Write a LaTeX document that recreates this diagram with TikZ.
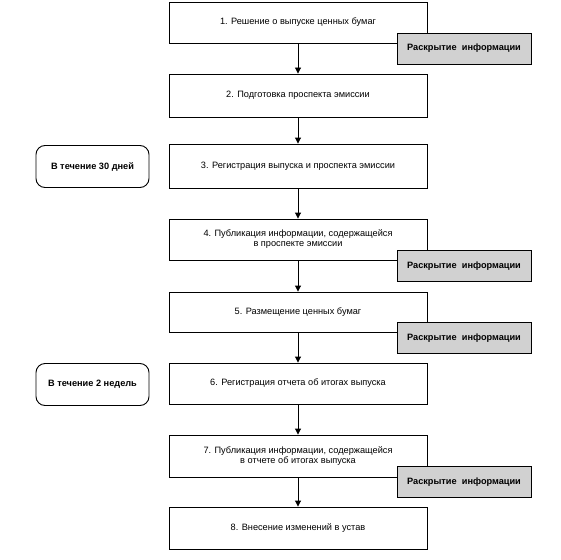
\documentclass[tikz,border=0pt]{standalone}
\usepackage{fontspec}
\setmainfont{Liberation Sans}
\usetikzlibrary{arrows.meta}
\begin{document}
\begin{tikzpicture}[x=1pt,y=-1pt,
  mainbox/.style={draw,line width=0.9pt,minimum width=258pt,inner sep=0pt,align=center,font=\fontsize{9.2}{10}\selectfont},
  infobox/.style={draw,line width=0.9pt,fill=black!18,minimum width=134pt,minimum height=31pt,inner sep=0pt,font=\bfseries\fontsize{9.2}{10}\selectfont},
  timebox/.style={draw,line width=0.9pt,rounded corners=9pt,minimum width=113pt,minimum height=42pt,inner sep=0pt,font=\bfseries\fontsize{9.2}{10}\selectfont},
  arr/.style={-{Triangle[length=6pt,width=6pt]},line width=0.9pt}]
\useasboundingbox (0,0) rectangle (561,559);
\node[mainbox,minimum height=41pt] (b1) at (298,22.5) {1. Решение о выпуске ценных бумаг};
\node[mainbox,minimum height=43pt] (b2) at (298,95.5) {2. Подготовка проспекта эмиссии};
\node[mainbox,minimum height=44pt] (b3) at (298,166) {3. Регистрация выпуска и проспекта эмиссии};
\node[mainbox,minimum height=41pt] (b4) at (298,239.5) {4. Публикация информации, содержащейся\\в проспекте эмиссии};
\node[mainbox,minimum height=40pt] (b5) at (298,312) {5. Размещение ценных бумаг};
\node[mainbox,minimum height=41pt] (b6) at (298,383.5) {6. Регистрация отчета об итогах выпуска};
\node[mainbox,minimum height=42pt] (b7) at (298,456) {7. Публикация информации, содержащейся\\в отчете об итогах выпуска};
\node[mainbox,minimum height=42pt] (b8) at (298,528) {8. Внесение изменений в устав};
\node[infobox] (i1) at (464,48.5) {Раскрытие\ \ информации};
\node[infobox] (i4) at (464,266) {Раскрытие\ \ информации};
\node[infobox] (i5) at (464,338) {Раскрытие\ \ информации};
\node[infobox] (i7) at (464,482) {Раскрытие\ \ информации};
\node[timebox] (t3) at (92.5,166.5) {В течение 30 дней};
\node[timebox] (t6) at (92.5,384.5) {В течение 2 недель};
\draw[arr] (b1) -- (b2);
\draw[arr] (b2) -- (b3);
\draw[arr] (b3) -- (b4);
\draw[arr] (b4) -- (b5);
\draw[arr] (b5) -- (b6);
\draw[arr] (b6) -- (b7);
\draw[arr] (b7) -- (b8);
\end{tikzpicture}
\end{document}
